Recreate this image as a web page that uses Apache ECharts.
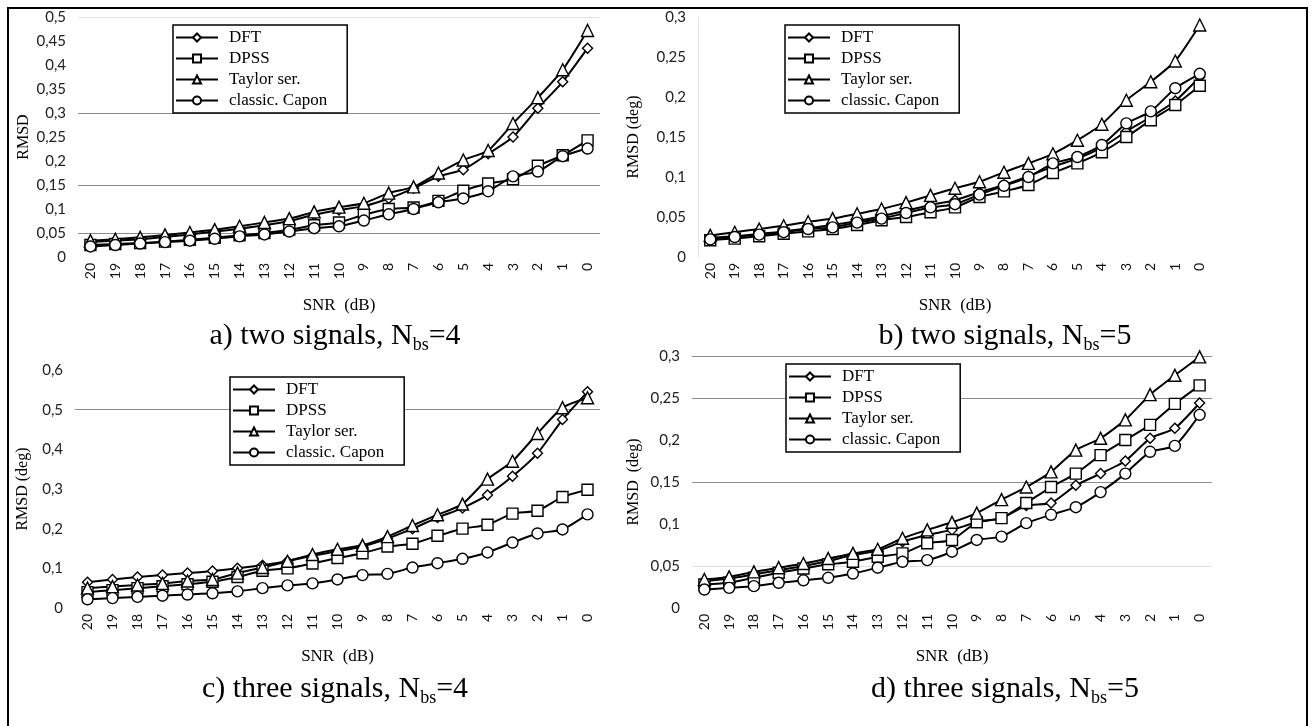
<!DOCTYPE html>
<html>
<head>
<meta charset="utf-8">
<script src="https://cdn.jsdelivr.net/npm/echarts@6/dist/echarts.min.js"></script>
<style>
  html, body { margin: 0; padding: 0; background: #fff; }
  #chart { width: 1312px; height: 726px; }
</style>
</head>
<body>
<div id="chart"></div>
<script>
// SNR categories (dB), same for all four panels
var snr = ['20','19','18','17','16','15','14','13','12','11','10','9','8','7','6','5','4','3','2','1','0'];
var methods = ['DFT', 'DPSS', 'Taylor ser.', 'classic. Capon'];

// a) two signals, Nbs=4
var a_DFT    = [0.031,0.034,0.037,0.042,0.047,0.053,0.059,0.066,0.075,0.088,0.098,0.106,0.122,0.143,0.168,0.182,0.215,0.25,0.31,0.365,0.435];
var a_DPSS   = [0.025,0.027,0.029,0.032,0.036,0.04,0.045,0.05,0.057,0.066,0.072,0.088,0.1,0.103,0.117,0.138,0.153,0.162,0.19,0.212,0.243];
var a_Taylor = [0.034,0.037,0.041,0.046,0.051,0.057,0.064,0.072,0.08,0.094,0.104,0.112,0.133,0.146,0.175,0.202,0.222,0.278,0.332,0.39,0.472];
var a_Capon  = [0.022,0.025,0.028,0.031,0.034,0.038,0.043,0.047,0.053,0.06,0.064,0.076,0.089,0.1,0.114,0.122,0.137,0.168,0.178,0.21,0.226];

// b) two signals, Nbs=5
var b_DFT    = [0.024,0.026,0.029,0.032,0.036,0.04,0.045,0.051,0.058,0.065,0.071,0.081,0.09,0.101,0.113,0.123,0.137,0.157,0.175,0.195,0.225];
var b_DPSS   = [0.021,0.023,0.026,0.029,0.032,0.035,0.04,0.046,0.05,0.056,0.062,0.075,0.082,0.09,0.105,0.117,0.131,0.15,0.171,0.19,0.214];
var b_Taylor = [0.027,0.031,0.035,0.039,0.044,0.048,0.054,0.06,0.068,0.077,0.086,0.094,0.106,0.117,0.129,0.146,0.166,0.196,0.219,0.245,0.29];
var b_Capon  = [0.022,0.025,0.028,0.031,0.035,0.037,0.043,0.048,0.055,0.062,0.066,0.078,0.089,0.1,0.117,0.125,0.14,0.167,0.182,0.211,0.229];

// c) three signals, Nbs=4
var c_DFT    = [0.065,0.072,0.078,0.083,0.088,0.093,0.1,0.108,0.118,0.132,0.143,0.155,0.175,0.2,0.228,0.252,0.285,0.332,0.39,0.475,0.545];
var c_DPSS   = [0.04,0.045,0.05,0.055,0.06,0.066,0.078,0.094,0.1,0.112,0.126,0.138,0.155,0.162,0.182,0.2,0.21,0.238,0.245,0.28,0.298];
var c_Taylor = [0.05,0.054,0.058,0.062,0.068,0.072,0.088,0.102,0.118,0.135,0.148,0.158,0.18,0.208,0.235,0.262,0.325,0.37,0.44,0.505,0.53];
var c_Capon  = [0.022,0.025,0.028,0.031,0.034,0.037,0.042,0.05,0.057,0.062,0.072,0.083,0.086,0.102,0.113,0.124,0.14,0.165,0.188,0.198,0.236];

// d) three signals, Nbs=5
var d_DFT    = [0.032,0.035,0.04,0.045,0.05,0.056,0.063,0.068,0.079,0.087,0.093,0.102,0.107,0.122,0.125,0.146,0.16,0.175,0.202,0.214,0.244];
var d_DPSS   = [0.028,0.03,0.036,0.042,0.047,0.052,0.055,0.061,0.065,0.077,0.081,0.102,0.107,0.125,0.144,0.16,0.182,0.2,0.218,0.243,0.265];
var d_Taylor = [0.034,0.037,0.043,0.048,0.053,0.059,0.065,0.07,0.083,0.093,0.102,0.113,0.129,0.144,0.162,0.188,0.202,0.224,0.254,0.277,0.299];
var d_Capon  = [0.022,0.024,0.026,0.03,0.033,0.036,0.041,0.048,0.055,0.057,0.067,0.081,0.085,0.101,0.111,0.12,0.138,0.16,0.186,0.193,0.23];

var serif = '"Liberation Serif", "Times New Roman", serif';
var sans = 'Lato, "Open Sans", sans-serif';

var symbols = {'DFT': 'diamond', 'DPSS': 'rect', 'Taylor ser.': 'triangle', 'classic. Capon': 'circle'};
var symSize = {'DFT': 10, 'DPSS': 11, 'Taylor ser.': 12, 'classic. Capon': 11};

var panels = [
  { grid: {left: 78, top: 17, width: 522, height: 240}, max: 0.5, interval: 0.05, yName: 'RMSD', yGap: 46,
    caption: ['a) two signals, N', 'bs', '=4'], capX: 330, capY: 313,
    legend: {left: 173, top: 25},
    gridLines: [[0.5, '#e2e2e2'], [0.3, '#8c8c8c'], [0.15, '#8c8c8c'], [0.05, '#8c8c8c']],
    data: [a_DFT, a_DPSS, a_Taylor, a_Capon] },
  { grid: {left: 698, top: 17, width: 514, height: 240}, max: 0.3, interval: 0.05, yName: 'RMSD (deg)', yGap: 56,
    caption: ['b) two signals, N', 'bs', '=5'], capX: 1000, capY: 313, axisLine: true,
    legend: {left: 785, top: 25},
    gridLines: [],
    data: [b_DFT, b_DPSS, b_Taylor, b_Capon] },
  { grid: {left: 75, top: 370, width: 525, height: 238}, max: 0.6, interval: 0.1, yName: 'RMSD (deg)', yGap: 44,
    caption: ['c) three signals, N', 'bs', '=4'], capX: 330, capY: 666,
    legend: {left: 230, top: 377},
    gridLines: [[0.5, '#8c8c8c']],
    data: [c_DFT, c_DPSS, c_Taylor, c_Capon] },
  { grid: {left: 692, top: 356, width: 520, height: 252}, max: 0.3, interval: 0.05, yName: 'RMSD  (deg)', yGap: 50,
    caption: ['d) three signals, N', 'bs', '=5'], capX: 1000, capY: 666,
    legend: {left: 786, top: 364},
    gridLines: [[0.3, '#8c8c8c'], [0.25, '#8c8c8c'], [0.15, '#8c8c8c'], [0.05, '#dddddd']],
    data: [d_DFT, d_DPSS, d_Taylor, d_Capon] }
];

var grids = [], xAxes = [], yAxes = [], series = [], legends = [], titles = [];

panels.forEach(function (p, i) {
  grids.push(p.grid);
  xAxes.push({
    type: 'category', gridIndex: i, data: snr, boundaryGap: true,
    name: 'SNR  (dB)', nameLocation: 'middle', nameGap: 40,
    nameTextStyle: {fontFamily: serif, fontSize: 17, color: '#000'},
    axisLine: {show: false}, axisTick: {show: false},
    axisLabel: {rotate: 90, fontFamily: sans, fontSize: 14, color: '#111', margin: 6, interval: 0}
  });
  yAxes.push({
    type: 'value', gridIndex: i, min: 0, max: p.max, interval: p.interval,
    name: p.yName, nameLocation: 'middle', nameGap: p.yGap,
    nameTextStyle: {fontFamily: serif, fontSize: 16, color: '#000'},
    axisLine: {show: !!p.axisLine, lineStyle: {color: '#e4e4e4'}},
    axisTick: {show: false}, splitLine: {show: false},
    axisLabel: {
      fontFamily: sans, fontSize: 15, color: '#222', margin: 12,
      formatter: function (v) { return String(Math.round(v * 100) / 100).replace('.', ','); }
    }
  });
  methods.forEach(function (m, k) {
    var s = {
      name: m, type: 'line', xAxisIndex: i, yAxisIndex: i,
      data: p.data[k], smooth: 0.2,
      symbol: symbols[m], symbolSize: symSize[m],
      lineStyle: {color: '#000', width: 2},
      itemStyle: {color: '#fff', borderColor: '#000', borderWidth: 1.4},
      emphasis: {disabled: true}
    };
    if (k === 0 && p.gridLines.length) {
      s.markLine = {
        silent: true, symbol: 'none', label: {show: false}, z: 1,
        data: p.gridLines.map(function (g) {
          return {yAxis: g[0], lineStyle: {color: g[1], width: 1.2, type: 'solid'}};
        })
      };
    }
    series.push(s);
  });
  legends.push({
    data: methods, orient: 'vertical', left: p.legend.left, top: p.legend.top,
    itemWidth: 42, itemHeight: 10, itemGap: 4,
    padding: [4, 20, 4, 2],
    backgroundColor: '#fff', borderColor: '#000', borderWidth: 1.5,
    textStyle: {fontFamily: serif, fontSize: 17, color: '#000', padding: [0, 0, 0, 6]},
    selectedMode: false
  });
  titles.push({
    text: '{t|' + p.caption[0] + '}{s|' + p.caption[1] + '}{t|' + p.caption[2] + '}',
    left: p.capX, top: p.capY, textAlign: 'center',
    textStyle: {
      rich: {
        t: {fontFamily: serif, fontSize: 30, fontWeight: 'normal', color: '#000', lineHeight: 36},
        s: {fontFamily: serif, fontSize: 18, fontWeight: 'normal', color: '#000', lineHeight: 36, verticalAlign: 'bottom', padding: [12, 0, 0, 0]}
      }
    }
  });
});

var myChart = echarts.init(document.getElementById('chart'));
myChart.setOption({
  backgroundColor: '#fff',
  animation: false,
  title: titles,
  grid: grids,
  xAxis: xAxes,
  yAxis: yAxes,
  legend: legends,
  series: series,
  graphic: [{
    type: 'rect', silent: true, z: 100,
    shape: {x: 8, y: 8, width: 1299, height: 730},
    style: {fill: null, stroke: '#000', lineWidth: 2}
  }]
});
</script>
</body>
</html>
